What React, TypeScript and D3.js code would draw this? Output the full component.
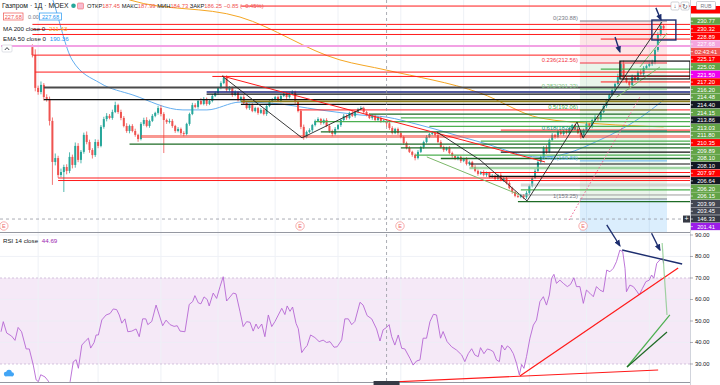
import * as d3 from "d3";

// ---------- data (prices in RUB, day index = trading day from the left edge) ----------
const FIRST_DAY = 11;
const firstOpen = 219.5;
const closes = [
  216.0, 201.7, 199.9, 203.0, 197.7, 196.9, 187.3, 169.4, 171.1, 163.7,
  165.0, 167.2, 165.5, 171.6, 168.1, 176.4, 170.3, 173.8, 181.2, 178.1,
  174.6, 172.4, 178.1, 176.4, 184.7, 188.1, 189.5, 188.6, 191.2, 194.2,
  191.2, 188.6, 185.1, 182.9, 185.1, 182.9, 181.2, 179.4, 186.0, 187.7,
  185.1, 187.3, 189.5, 190.8, 192.9, 190.3, 187.7, 186.8, 187.3, 185.1,
  182.9, 183.8, 182.0, 181.6, 186.0, 190.3, 194.2, 193.4, 196.0, 194.7,
  196.9, 194.7, 196.0, 198.2, 199.5, 201.7, 203.8, 206.0, 200.8, 201.7,
  198.6, 199.9, 196.4, 197.7, 195.1, 192.9, 194.2, 191.6, 192.9, 190.8,
  192.1, 190.3, 193.8, 196.0, 196.4, 197.7, 196.0, 198.2, 199.1, 197.7,
  199.1, 199.9, 195.6, 191.6, 184.7, 180.3, 182.5, 183.3, 185.5, 187.3,
  188.1, 186.4, 187.7, 185.1, 182.9, 181.6, 183.8, 185.5, 187.7, 189.5,
  188.6, 190.8, 189.5, 191.2, 192.5, 192.9, 191.2, 189.9, 188.6, 189.5,
  187.7, 188.6, 187.3, 187.45, 186.25, 184.2, 182.0, 183.8, 182.0, 180.3,
  177.7, 175.5, 173.8, 172.5, 171.1, 173.8, 175.9, 178.1, 180.3, 181.6,
  182.0, 181.2, 178.1, 175.9, 174.6, 175.5, 173.3, 172.0, 170.7, 171.6,
  169.8, 170.7, 168.5, 169.4, 167.2, 165.5, 164.2, 165.0, 163.7, 164.6,
  162.9, 163.3, 162.0, 163.7, 161.5, 162.4, 160.2, 158.0, 156.3, 154.6,
  154.2, 154.9, 154.0, 155.9, 158.9, 162.4, 165.5, 169.4, 171.6, 175.5,
  173.8, 179.0, 181.2, 180.3, 182.5, 181.6, 182.9, 182.0, 184.2, 185.5,
  183.8, 182.0, 180.3, 183.3, 186.0, 184.7, 187.7, 189.0, 188.1, 191.2,
  193.8, 196.4, 198.6, 200.8, 203.4, 206.9, 212.1, 206.0, 204.3, 203.0,
  206.5, 205.2, 208.6, 207.8, 210.4, 211.3, 212.1, 213.0, 218.2, 224.8,
  228.7, 227.68,
];
const wickUp = [
  1.2, 2.5, 1.0, 1.5, 0.8, 1.2, 1.0, 1.5, 2.0, 1.0,
  1.5, 1.0, 1.2, 2.0, 1.0, 1.5, 1.2, 0.8, 1.0, 1.5,
  1.0, 0.8, 1.2, 1.0, 0.8, 1.0, 1.2, 0.8, 1.0, 1.5,
  0.6, 1.0, 0.8, 1.2, 0.6, 0.8, 1.0, 0.5, 0.8, 1.0,
  1.2, 0.6, 0.8, 0.5, 1.0, 1.2, 0.8, 0.6, 1.0, 0.8,
  0.5, 0.8, 0.6, 0.8, 0.5, 0.6, 1.0, 0.8, 0.6, 1.2,
  0.8, 0.6, 0.5, 0.8, 0.6, 0.5, 0.8, 1.0, 1.2, 0.8,
  0.6, 0.8, 0.5, 0.6, 0.8, 0.5, 0.6, 0.8, 0.6, 0.5,
  0.8, 0.6, 0.5, 0.6, 0.8, 0.5, 0.6, 0.8, 1.0, 0.6,
  0.5, 0.8, 0.6, 0.5, 0.8, 1.0, 0.6, 0.8, 0.5, 0.6,
  0.8, 0.5, 0.6, 0.8, 0.5, 0.6, 0.8, 0.5, 0.6, 0.8,
  0.6, 0.5, 0.8, 0.6, 0.5, 0.8, 0.6, 0.5, 0.8, 0.6,
  0.5, 0.8, 0.6, 0.5, 0.54, 0.6, 0.8, 0.5, 0.6, 0.8,
  0.5, 0.6, 0.8, 0.5, 0.6, 0.8, 0.5, 0.6, 0.8, 0.5,
  0.8, 0.6, 0.5, 0.8, 0.6, 0.5, 0.8, 0.6, 0.5, 0.8,
  0.6, 0.5, 0.8, 0.6, 0.5, 0.8, 0.6, 0.5, 0.8, 0.6,
  0.5, 0.8, 0.6, 0.5, 0.8, 0.6, 0.5, 0.8, 0.6, 0.5,
  0.8, 0.6, 0.5, 0.8, 0.6, 0.5, 0.8, 1.0, 0.6, 0.8,
  1.2, 0.6, 0.8, 0.5, 0.6, 0.8, 0.5, 0.6, 0.8, 0.5,
  0.6, 0.8, 0.5, 0.6, 0.8, 0.5, 0.6, 0.8, 0.5, 0.6,
  0.8, 0.5, 0.6, 0.8, 0.6, 1.0, 1.3, 1.5, 0.8, 0.6,
  1.0, 0.8, 0.6, 1.2, 0.8, 0.6, 0.8, 1.0, 0.8, 1.2,
  1.7, 0.6,
];
const wickDn = [
  1.0, 1.5, 1.2, 1.0, 1.5, 1.2, 2.0, 10.0, 1.5, 1.2,
  1.0, 8.7, 1.5, 1.0, 1.5, 1.2, 1.0, 1.5, 0.8, 1.0,
  1.2, 1.5, 0.8, 1.0, 0.6, 0.8, 1.0, 0.6, 0.8, 0.5,
  0.8, 1.0, 0.6, 0.8, 1.0, 0.6, 0.8, 1.2, 0.6, 0.8,
  0.6, 0.8, 0.5, 0.6, 0.8, 1.0, 14.4, 0.8, 0.6, 0.8,
  0.8, 0.6, 0.8, 1.0, 0.6, 0.8, 0.5, 0.6, 0.8, 0.5,
  0.6, 0.8, 0.5, 0.6, 0.5, 0.8, 0.6, 0.5, 0.8, 0.6,
  0.8, 0.5, 0.6, 0.8, 0.5, 0.6, 0.8, 0.5, 0.6, 0.8,
  0.5, 0.6, 0.8, 0.5, 0.6, 0.8, 0.5, 0.6, 0.5, 0.8,
  0.6, 0.5, 0.8, 0.6, 1.0, 1.2, 0.6, 0.5, 0.8, 0.6,
  0.5, 0.8, 0.6, 0.5, 0.8, 1.0, 0.6, 0.5, 0.8, 0.6,
  0.8, 0.6, 0.5, 0.8, 0.6, 0.5, 0.8, 0.6, 0.5, 0.8,
  0.6, 0.5, 0.8, 0.6, 1.52, 0.8, 0.6, 0.5, 0.8, 0.6,
  0.8, 0.6, 0.5, 0.8, 1.0, 0.6, 0.5, 0.8, 0.6, 0.5,
  0.6, 0.8, 0.5, 0.6, 0.8, 0.5, 0.6, 0.8, 0.5, 0.6,
  0.8, 0.5, 0.6, 0.8, 0.5, 0.6, 0.8, 0.5, 0.6, 0.8,
  0.6, 0.5, 0.8, 0.6, 0.5, 0.8, 0.6, 0.5, 0.8, 0.6,
  0.5, 0.6, 0.8, 0.75, 0.8, 0.6, 0.5, 0.8, 0.6, 0.5,
  0.8, 0.6, 0.5, 0.8, 0.6, 0.5, 0.8, 0.6, 0.5, 0.8,
  0.6, 0.5, 0.8, 0.6, 0.5, 0.8, 0.6, 0.5, 0.8, 0.6,
  0.5, 0.8, 0.6, 0.5, 0.8, 0.6, 0.8, 1.0, 0.6, 0.8,
  0.6, 0.8, 0.5, 0.6, 0.8, 0.5, 0.6, 0.8, 1.0, 0.8,
  0.6, 0.8,
];

// moving averages: [day, price]
const ma200 = [[40, 244], [45.2, 240.0], [83.7, 232.6], [118.7, 213.9], [134.8, 209.5], [167.7, 199.5], [188.7, 188.6], [209.7, 186.0], [232, 184.7]];
const ema50 = [[15, 252], [18.2, 240.0], [24.9, 213.9], [34.7, 203.8], [46.2, 198.6], [63.7, 192.1], [72.1, 192.1], [83.7, 195.5], [94.2, 195.1], [111.7, 192.1], [125.7, 189.9], [134.8, 189.0], [146.7, 185.5], [167.7, 178.1], [188.7, 171.5], [195.7, 172.4], [209.7, 179.0], [216.7, 183.3], [223.7, 188.6], [232, 196.4]];

// RSI 14: [day, value]
const rsi = [
  [0, 45.0], [0.8, 49.7], [2.0, 44.4], [3.7, 43], [4.9, 41], [6.0, 47], [7.2, 45], [8.8, 37], [9.9, 37], [11.3, 29.5],
  [12.3, 22.6], [13.1, 21.8], [13.9, 25], [15.4, 24], [16.6, 22], [17.9, 16], [19.6, 12.5], [21.4, 14], [22.8, 17], [24.2, 21.8],
  [25.3, 31], [26.3, 32], [27.1, 28], [28.3, 38.8], [29.8, 41], [30.6, 42], [31.4, 37.4], [32.6, 40], [33.3, 43.5], [34.1, 43.5],
  [35.3, 50.5], [36.8, 52.8], [38.2, 53.5], [39.3, 55.6], [40.5, 55.3], [41.4, 52.8], [42.3, 49], [43.4, 51], [44.4, 45], [45.8, 45.3],
  [47.3, 46.3], [48.4, 42.7], [49.6, 51], [50.7, 51], [51.4, 48.3], [52.8, 49.8], [54.3, 57.4], [55.4, 52.8], [56.6, 47.8], [57.8, 50.4],
  [59.2, 48.3], [60.6, 47.5], [61.7, 47.8], [62.7, 45.3], [64.4, 45], [65.9, 57.7], [67.1, 59], [67.9, 61.8], [69.1, 58.4], [70.0, 58],
  [71.1, 61.2], [72.2, 60], [72.9, 57], [74.3, 63], [75.5, 60.5], [76.7, 66], [77.8, 70.6], [79.0, 59.3], [80.2, 61.2], [81.3, 63],
  [82.3, 62.6], [83.7, 54.3], [84.8, 47.4], [86.0, 49.7], [87.2, 49.4], [88.3, 45.3], [89.3, 48.6], [90.1, 46.4], [91.3, 48.6], [92.4, 42.7],
  [93.6, 52.8], [94.8, 47.4], [95.9, 49.7], [97.1, 52.8], [98.3, 55.9], [99.4, 53], [100.2, 57], [101.2, 54.5], [102.1, 56.5], [103.3, 48.9],
  [104.1, 46.4], [105.3, 35.3], [106.4, 37.4], [107.2, 38.6], [108.4, 43.5], [109.9, 42.3], [111.4, 40.4], [112.8, 41.1], [114.0, 40], [115.2, 40.4],
  [116.6, 37.8], [117.7, 38], [119.3, 41.2], [120.4, 51], [121.6, 51], [122.8, 48.3], [123.9, 49.8], [125.7, 58.7], [126.8, 57.4], [128.2, 52.5],
  [129.8, 51], [131.5, 46.3], [132.7, 40.7], [133.8, 45.9], [135.0, 47], [135.9, 48.3], [136.8, 42.7], [137.9, 38.8], [139.1, 43.5], [140.3, 37.3],
  [141.4, 37], [143.2, 32.6], [144.3, 29.5], [145.5, 31.4], [146.7, 31.9], [147.8, 42], [149.0, 42], [150.2, 49.7], [151.4, 53.1], [152.5, 52.8],
  [153.9, 42], [154.8, 45.1], [156.2, 40.4], [157.8, 38], [159.5, 36.5], [161.3, 34.2], [162.4, 31.1], [163.6, 34.8], [164.8, 37.1], [165.9, 34.2],
  [167.1, 33.4], [167.9, 37.6], [169.1, 34.8], [170.3, 37], [171.4, 36.5], [172.4, 35.7], [173.5, 31.9], [174.5, 31.1], [175.3, 38.8], [176.4, 36.5],
  [177.3, 38.4], [178.2, 37.5], [179.4, 34.8], [180.5, 30.3], [181.5, 24.9], [182.3, 29.8], [183.1, 28], [184.0, 33.4], [185.2, 42], [186.4, 48.1],
  [187.5, 50.4], [188.7, 59], [189.9, 61.3], [191.0, 57.4], [192.0, 62.1], [192.8, 69.9], [193.6, 71.7], [194.5, 67.5], [195.7, 69], [196.9, 67.5],
  [198.3, 66], [199.4, 67], [200.6, 70.1], [201.5, 66], [202.7, 66], [203.9, 58.2], [205.0, 64.4], [206.2, 62.9], [207.4, 61.3], [208.5, 66],
  [209.7, 64.4], [210.9, 63.6], [212.1, 73.7], [213.2, 72.9], [214.4, 74.5], [215.5, 77.6], [216.7, 83], [217.7, 82.2], [218.5, 74.5], [219.0, 63.6],
  [220.2, 66.7], [221.4, 66], [222.6, 63.9], [223.5, 62.1], [224.6, 65.2], [225.8, 68.3], [227.0, 69], [227.8, 71.4], [228.6, 69.9], [229.6, 76.8],
  [230.7, 78.4], [231.7, 79.2], [232, 76.8],
];

// horizontal rays: price, start day, kind
const rays = [
  { p: 237.4, d: 84, k: "r" }, { p: 229.4, d: 11, k: "r" }, { p: 227.2, d: 11, k: "r" }, { p: 225.0, d: 11, k: "r" },
  { p: 223.0, d: 210, k: "r" }, { p: 220.0, d: 0, k: "pk" }, { p: 216.0, d: 11, k: "r" }, { p: 209.9, d: 210, k: "g" },
  { p: 208.6, d: 12, k: "r" }, { p: 206.7, d: 74, k: "r" }, { p: 204.3, d: 210, k: "r" }, { p: 201.9, d: 15, k: "dk" },
  { p: 199.9, d: 72, k: "nv" }, { p: 199.0, d: 72, k: "k" }, { p: 196.6, d: 15, k: "k" }, { p: 195.8, d: 84, k: "ol" },
  { p: 194.5, d: 84, k: "k" }, { p: 192.1, d: 104, k: "r" }, { p: 190.3, d: 129, k: "dg" }, { p: 188.6, d: 140, k: "g" },
  { p: 187.0, d: 110, k: "g" }, { p: 184.9, d: 150, k: "g" }, { p: 183.3, d: 175, k: "r" }, { p: 182.5, d: 112, k: "dg" },
  { p: 180.5, d: 49, k: "rt" }, { p: 178.5, d: 168, k: "g" }, { p: 177.2, d: 45, k: "dg" }, { p: 175.5, d: 140, k: "dg" },
  { p: 173.7, d: 175, k: "k" }, { p: 172.4, d: 145, k: "g" }, { p: 170.9, d: 154, k: "dg" }, { p: 168.5, d: 164, k: "k" },
  { p: 166.8, d: 164, k: "lg" }, { p: 164.8, d: 168, k: "r" }, { p: 163.1, d: 171, k: "k" }, { p: 162.4, d: 20, k: "r" },
  { p: 161.3, d: 20, k: "r" }, { p: 159.4, d: 182, k: "lgy" }, { p: 157.2, d: 182, k: "g" }, { p: 155.0, d: 182, k: "gy" },
  { p: 152.1, d: 181, k: "dg" },
];

// fibonacci retracement
const fibHigh = 230.88;
const fibLow = 153.25;
const fibLevels = [0, 0.236, 0.382, 0.5, 0.618, 0.786, 1];
const fibDays = [202.7, 233.2];

// trend drawings: [day, price]
const blackPaths = [
  [[77.4, 206.9], [105.4, 179.9], [126.7, 192.9]],
  [[152.6, 182.5], [167.7, 170.3], [184.2, 152.4]],
  [[184.2, 152.4], [201.7, 186.8], [203.8, 179.9], [231.4, 230.4]],
];
const redTrend = [[77.4, 206.9], [190.5, 169.4]];
const greenPaths = [
  [[149.1, 171.6], [181.7, 155.0]],
  [[215.6, 197.7], [230.7, 210.8]],
  [[223.7, 210.8], [233.2, 225.6]],
];
const pinkDotted = [[198.9, 144.1], [223.7, 197.7]];
const blackBox = { d0: 216.7, p0: 213.4, p1: 205.6, pMid: 206.9 };
const navyBox = { d0: 227.9, d1: 236.3, p0: 231.3, p1: 222.6 };
const mainArrows = [[[229.3, 236.6], [231.1, 231.3]], [[215.0, 223.9], [216.7, 217.4]]];

// RSI drawings: [day, rsi]
const rsiNavy = [[217.5, 83.0], [238.5, 76.5]];
const rsiRed = [[[181.7, 24.4], [237.1, 74.7]], [[136.2, 21.6], [230.1, 27.2]]];
const rsiGreen = [
  { pts: [[231.5, 86.3], [233.2, 52.8]], k: "lg" },
  { pts: [[219.2, 28.6], [234.2, 52.8]], k: "g" },
  { pts: [[219.2, 28.6], [233.2, 44.9]], k: "dg" },
];
const rsiArrows = [[[212.1, 94.7], [216.7, 85.0]], [[227.8, 90.8], [230.7, 83.0]]];

const monthDays = [13, 34, 56, 76, 96, 118, 140, 162, 185, 205, 227];
const earningsDays = [1, 104.7, 139.7, 203.8];
const crossDay = 135;
const crossPrice = 144.5;
const rsiTicks = [90, 80, 70, 60, 50, 40, 30];

// right scale tags (top to bottom, as stacked by the chart)
const priceTags = [
  ["230.77", "g"], ["230.32", "r"], ["228.89", "r"], ["227.68", "pk"], ["02:43:41", "cd"], ["225.17", "r"],
  ["225.02", "g"], ["221.50", "m"], ["217.20", "r"], ["216.20", "g"], ["214.48", "g"], ["214.40", "k"],
  ["214.15", "g"], ["213.86", "k"], ["213.03", "g"], ["211.80", "g"], ["210.35", "r"], ["209.89", "g"],
  ["208.10", "g"], ["208.10", "k"], ["207.97", "r"], ["206.64", "k"], ["206.20", "g"], ["206.15", "g"],
  ["203.99", "dk"], ["203.45", "dk"], ["146.33", "x"], ["201.41", "v"],
];

// ---------- styles ----------
const RAY_STYLE: Record<string, [string, number]> = {
  r: ["#ff1a1a", 1], k: ["#111111", 1.2], dg: ["#1e6b25", 1.3], g: ["#4caf50", 1.2], lg: ["rgba(129,199,132,0.75)", 2.5],
  gy: ["#9e9e9e", 1], lgy: ["rgba(190,190,190,0.6)", 3], nv: ["#1a237e", 1.5], ol: ["#8d7d1a", 1.8], dk: ["#4a4a4a", 2],
  pk: ["#f2a2e4", 2], rt: ["rgba(244,67,54,0.55)", 3],
};
const TAG_BG: Record<string, string> = {
  g: "#62a346", r: "#ff0000", pk: "#f4a6df", cd: "#ef5350", m: "#ee00ee", k: "#131722", dk: "#434651", x: "#363a45", v: "#9c1de8",
};
const FIB_COLOR = ["#787b86", "#f23645", "#81c784", "#4caf50", "#089981", "#64b5f6", "#787b86"];
const FONT = "Liberation Sans, Arial, sans-serif";
const UP = "#26a69a";
const DOWN = "#ef5350";
const NAVY = "#1c2d6e";

export default function App() {
  const PR = 690;
  const MAIN_B = 232;
  const RSI_T = 233;
  const RSI_B = 382;

  const x = d3.scaleLinear().domain([-0.35, 241.25]).range([0, PR]);
  const y = d3.scaleLinear().domain([138.85, 240.04]).range([MAIN_B, 0]);
  const yr = d3.scaleLinear().domain([20.23, 90.93]).range([385, 233]);

  const candles = closes.map((c, k) => {
    const o = k === 0 ? firstOpen : closes[k - 1];
    return { d: FIRST_DAY + k, o, c, h: Math.max(o, c) + wickUp[k], l: Math.min(o, c) - wickDn[k] };
  });

  const lineMain = d3.line<number[]>().x((p) => x(p[0])).y((p) => y(p[1]));
  const lineMainCurve = d3.line<number[]>().x((p) => x(p[0])).y((p) => y(p[1])).curve(d3.curveMonotoneX);
  const lineRsi = d3.line<number[]>().x((p) => x(p[0])).y((p) => yr(p[1]));

  // stacked price tags
  const TAG_H = 7.6;
  let prevY = -100;
  const tags = priceTags.map(([text, kind]) => {
    const want = kind === "cd" ? prevY + TAG_H : kind === "x" ? y(crossPrice) : y(parseFloat(text));
    const ty = Math.max(want, prevY + TAG_H);
    prevY = ty;
    return { text, kind, ty };
  });

  const fibRange = fibHigh - fibLow;
  const fibPrice = (lv: number) => fibHigh - lv * fibRange;
  const fx0 = x(fibDays[0]);
  const fx1 = x(fibDays[1]);
  const crossX = x(crossDay);
  const crossY = y(crossPrice);

  return (
    <svg width={720} height={385} style={{ position: "fixed", left: 0, top: 0, background: "#fff" }} fontFamily={FONT}>
      <defs>
        <clipPath id="cm"><rect x={0} y={0} width={PR} height={MAIN_B} /></clipPath>
        <clipPath id="cr"><rect x={0} y={RSI_T} width={PR} height={RSI_B - RSI_T} /></clipPath>
        <marker id="ah" viewBox="0 0 10 10" refX="8" refY="5" markerWidth="5" markerHeight="5" orient="auto">
          <path d="M0,1 L10,5 L0,9 z" fill={NAVY} />
        </marker>
      </defs>
      <rect width={720} height={385} fill="#fff" />

      {/* ---------- main pane ---------- */}
      <g clipPath="url(#cm)">
        {monthDays.map((d) => (
          <line key={d} x1={x(d)} x2={x(d)} y1={0} y2={MAIN_B} stroke="#eef1f6" />
        ))}
        {/* fib fills */}
        <rect x={fx0} width={fx1 - fx0} y={y(fibPrice(0))} height={y(fibPrice(0.236)) - y(fibPrice(0))} fill="rgba(242,54,69,0.13)" />
        <rect x={fx0} width={fx1 - fx0} y={y(fibPrice(0.236))} height={y(fibPrice(1)) - y(fibPrice(0.236))} fill="rgba(76,175,80,0.12)" />
        <rect x={fx0} width={fx1 - fx0} y={y(fibPrice(1))} height={MAIN_B - y(fibPrice(1))} fill="rgba(33,150,243,0.16)" />

        {/* moving averages */}
        <path d={lineMainCurve(ma200) || ""} fill="none" stroke="#f5a623" strokeWidth={1} />
        <path d={lineMainCurve(ema50) || ""} fill="none" stroke="#64aef0" strokeWidth={1} />

        {/* candles */}
        {candles.map((k) => {
          const cx = x(k.d);
          const col = k.c >= k.o ? UP : DOWN;
          const top = y(Math.max(k.o, k.c));
          const bh = Math.max(1, y(Math.min(k.o, k.c)) - top);
          return (
            <g key={k.d}>
              <line x1={cx} x2={cx} y1={y(k.h)} y2={y(k.l)} stroke={col} strokeWidth={0.8} />
              <rect x={cx - 1} y={top} width={2} height={bh} fill={col} />
            </g>
          );
        })}

        {/* horizontal rays */}
        {rays.map((r, i) => {
          const [col, w] = RAY_STYLE[r.k];
          return <line key={i} x1={x(r.d)} x2={PR} y1={y(r.p)} y2={y(r.p)} stroke={col} strokeWidth={w} />;
        })}

        {/* fib levels */}
        {fibLevels.map((lv, i) => (
          <g key={lv}>
            <line x1={fx0} x2={fx1} y1={y(fibPrice(lv))} y2={y(fibPrice(lv))} stroke={FIB_COLOR[i]} strokeWidth={1} />
            <text x={fx0 - 2} y={y(fibPrice(lv)) - 1} fontSize={5.8} textAnchor="end" fill={FIB_COLOR[i]}>
              {`${lv}(${fibPrice(lv).toFixed(2)})`}
            </text>
          </g>
        ))}

        {/* drawings */}
        <path d={lineMain(redTrend) || ""} stroke="#ff1a1a" strokeWidth={1} fill="none" />
        {blackPaths.map((p, i) => (
          <path key={i} d={lineMain(p) || ""} stroke="#222" strokeWidth={0.9} fill="none" />
        ))}
        {greenPaths.map((p, i) => (
          <path key={i} d={lineMain(p) || ""} stroke="#7cb86a" strokeWidth={1} fill="none" />
        ))}
        <path d={lineMain(pinkDotted) || ""} stroke="#f06292" strokeWidth={1} strokeDasharray="1.5 2" fill="none" />
        <rect x={x(blackBox.d0)} y={y(blackBox.p0)} width={PR - x(blackBox.d0)} height={y(blackBox.p1) - y(blackBox.p0)} fill="none" stroke="#111" strokeWidth={1.2} />
        <line x1={x(blackBox.d0)} x2={PR} y1={y(blackBox.pMid)} y2={y(blackBox.pMid)} stroke="#111" strokeWidth={1} />
        <rect x={x(navyBox.d0)} y={y(navyBox.p0)} width={x(navyBox.d1) - x(navyBox.d0)} height={y(navyBox.p1) - y(navyBox.p0)} fill="none" stroke={NAVY} strokeWidth={1.4} />
        {mainArrows.map((a, i) => (
          <path key={i} d={lineMain(a) || ""} stroke={NAVY} strokeWidth={1.4} fill="none" markerEnd="url(#ah)" />
        ))}

        {/* crosshair horizontal */}
        <line x1={0} x2={PR} y1={crossY} y2={crossY} stroke="#9598a1" strokeDasharray="3 3" strokeWidth={0.8} />

        {/* earnings markers */}
        {earningsDays.map((d) => (
          <g key={d}>
            <circle cx={x(d)} cy={226} r={4.2} fill="#fff" stroke="#f5a3a3" strokeWidth={0.9} />
            <text x={x(d)} y={228} fontSize={5.5} textAnchor="middle" fill="#ef6b6b">E</text>
          </g>
        ))}
      </g>

      {/* legend */}
      <g fontSize={6.8} fill="#131722">
        <text x={2} y={8}>Газпром · 1Д · MOEX</text>
        <circle cx={73.5} cy={5.8} r={2.3} fill="#26a69a" />
        <rect x={77.5} y={3} width={6} height={6} rx={1} fill="#f8bbd0" stroke="#ef5350" strokeWidth={0.5} />
        <text x={87} y={8} fontSize={5.8}>
          ОТКР<tspan fill={DOWN}>187.45</tspan> МАКС<tspan fill={DOWN}>187.99</tspan> МИН<tspan fill={DOWN}>184.73</tspan> ЗАКР<tspan fill={DOWN}>186.25 −0.85 (−0.45%)</tspan>
        </text>
        <rect x={3.5} y={13} width={19.5} height={7} fill="#fff" stroke={DOWN} strokeWidth={0.7} />
        <text x={13.25} y={18.6} fontSize={5.6} textAnchor="middle" fill={DOWN}>227.68</text>
        <text x={28} y={18.6} fontSize={5.6} fill="#787b86">0.00</text>
        <rect x={39.5} y={13} width={22} height={7} fill="#fff" stroke="#2196f3" strokeWidth={0.7} />
        <text x={50.5} y={18.6} fontSize={5.6} textAnchor="middle" fill="#2196f3">227.68</text>
        <text x={3} y={31} fontSize={6.2}>MA 200 close 0 <tspan fill="#f5a623" dx={2}>211.43</tspan></text>
        <text x={3} y={41} fontSize={6.2}>EMA 50 close 0 <tspan fill="#2196f3" dx={2}>190.36</tspan></text>
        <rect x={2} y={45} width={10} height={7} rx={1} fill="#fff" stroke="#d1d4dc" strokeWidth={0.7} />
        <path d="M4.8,50 L7,47.6 L9.2,50" fill="none" stroke="#131722" strokeWidth={0.8} />
      </g>

      {/* pane separator */}
      <line x1={0} x2={720} y1={MAIN_B + 0.5} y2={MAIN_B + 0.5} stroke="#9598a1" strokeWidth={1} />

      {/* ---------- RSI pane ---------- */}
      <g clipPath="url(#cr)">
        <rect x={0} y={yr(70)} width={PR} height={yr(30) - yr(70)} fill="rgba(156,39,176,0.1)" />
        {[90, 80, 60, 50, 40].map((v) => (
          <line key={v} x1={0} x2={PR} y1={yr(v)} y2={yr(v)} stroke="#eceff5" strokeWidth={0.8} />
        ))}
        {monthDays.map((d) => (
          <line key={d} x1={x(d)} x2={x(d)} y1={RSI_T} y2={RSI_B} stroke="#eef1f6" />
        ))}
        <line x1={0} x2={PR} y1={yr(70)} y2={yr(70)} stroke="#c9b6d6" strokeDasharray="2 2" strokeWidth={0.8} />
        <line x1={0} x2={PR} y1={yr(30)} y2={yr(30)} stroke="#c9b6d6" strokeDasharray="2 2" strokeWidth={0.8} />
        <path d={lineRsi(rsi) || ""} fill="none" stroke="#b566d4" strokeWidth={0.9} />
        <path d={lineRsi(rsiNavy) || ""} stroke={NAVY} strokeWidth={1.4} fill="none" />
        {rsiRed.map((p, i) => (
          <path key={i} d={lineRsi(p) || ""} stroke="#ff1a1a" strokeWidth={1.2} fill="none" />
        ))}
        {rsiGreen.map((g, i) => (
          <path key={i} d={lineRsi(g.pts) || ""} stroke={RAY_STYLE[g.k][0]} strokeWidth={1.2} fill="none" />
        ))}
        {/* cloud icon */}
        <g fill="#42a5f5">
          <circle cx={6} cy={374} r={2.2} />
          <circle cx={9} cy={372.5} r={2.8} />
          <circle cx={12} cy={374.2} r={2} />
          <rect x={5} y={374} width={8} height={2.3} />
        </g>
      </g>
      {rsiArrows.map((a, i) => (
        <path key={i} d={lineRsi(a) || ""} stroke={NAVY} strokeWidth={1.4} fill="none" markerEnd="url(#ah)" />
      ))}
      <text x={3} y={243} fontSize={6.2} fill="#131722">RSI 14 close <tspan fill="#9c27b0" dx={2}>44.69</tspan></text>
      <line x1={0} x2={720} y1={RSI_B + 0.5} y2={RSI_B + 0.5} stroke="#9598a1" strokeWidth={1} />

      {/* crosshair vertical */}
      <line x1={crossX} x2={crossX} y1={0} y2={RSI_B} stroke="#9598a1" strokeDasharray="3 3" strokeWidth={0.8} />
      <rect x={crossX - 13} y={RSI_B - 1} width={26} height={6} fill="#363a45" />

      {/* ---------- right scale ---------- */}
      <rect x={PR} y={0} width={720 - PR} height={385} fill="#fff" />
      <line x1={PR + 0.5} x2={PR + 0.5} y1={0} y2={385} stroke="#d1d4dc" />
      <rect x={PR + 1} y={6} width={29} height={7.5} fill="#ff0000" />
      <rect x={696.5} y={1.5} width={19} height={8} rx={1} fill="#fff" stroke="#b2b5be" strokeWidth={0.7} />
      <text x={706} y={7.8} fontSize={5.2} textAnchor="middle" fill="#787b86">RUB</text>
      <rect x={671} y={2} width={8} height={8} rx={1.2} fill="#fff" stroke="#b2b5be" strokeWidth={0.6} />
      <text x={675} y={8.4} fontSize={6} textAnchor="middle" fill="#50535e">↓</text>
      <rect x={681} y={2} width={8} height={8} rx={1.2} fill="#fff" stroke="#b2b5be" strokeWidth={0.6} />
      <text x={685} y={8.6} fontSize={6.5} textAnchor="middle" fill="#50535e">↻</text>

      {tags.map((t, i) => (
        <g key={i}>
          <rect x={PR + 1} y={t.ty - TAG_H / 2} width={29} height={TAG_H - 0.3} fill={TAG_BG[t.kind]} />
          <line x1={PR} x2={PR + 3} y1={t.ty} y2={t.ty} stroke="#fff" strokeWidth={0.6} />
          <text x={PR + 16} y={t.ty + 2.1} fontSize={5.8} textAnchor="middle" fill="#fff">{t.text}</text>
        </g>
      ))}
      <rect x={683} y={crossY - 3.5} width={7} height={7} fill="#363a45" />
      <text x={686.5} y={crossY + 2.4} fontSize={7} textAnchor="middle" fill="#fff">+</text>

      {rsiTicks.map((v) => (
        <g key={v}>
          <line x1={PR} x2={PR + 3} y1={yr(v)} y2={yr(v)} stroke="#787b86" strokeWidth={0.6} />
          <text x={PR + 5} y={yr(v) + 2} fontSize={5.8} fill="#131722">{`${v}.00`}</text>
        </g>
      ))}
    </svg>
  );
}
